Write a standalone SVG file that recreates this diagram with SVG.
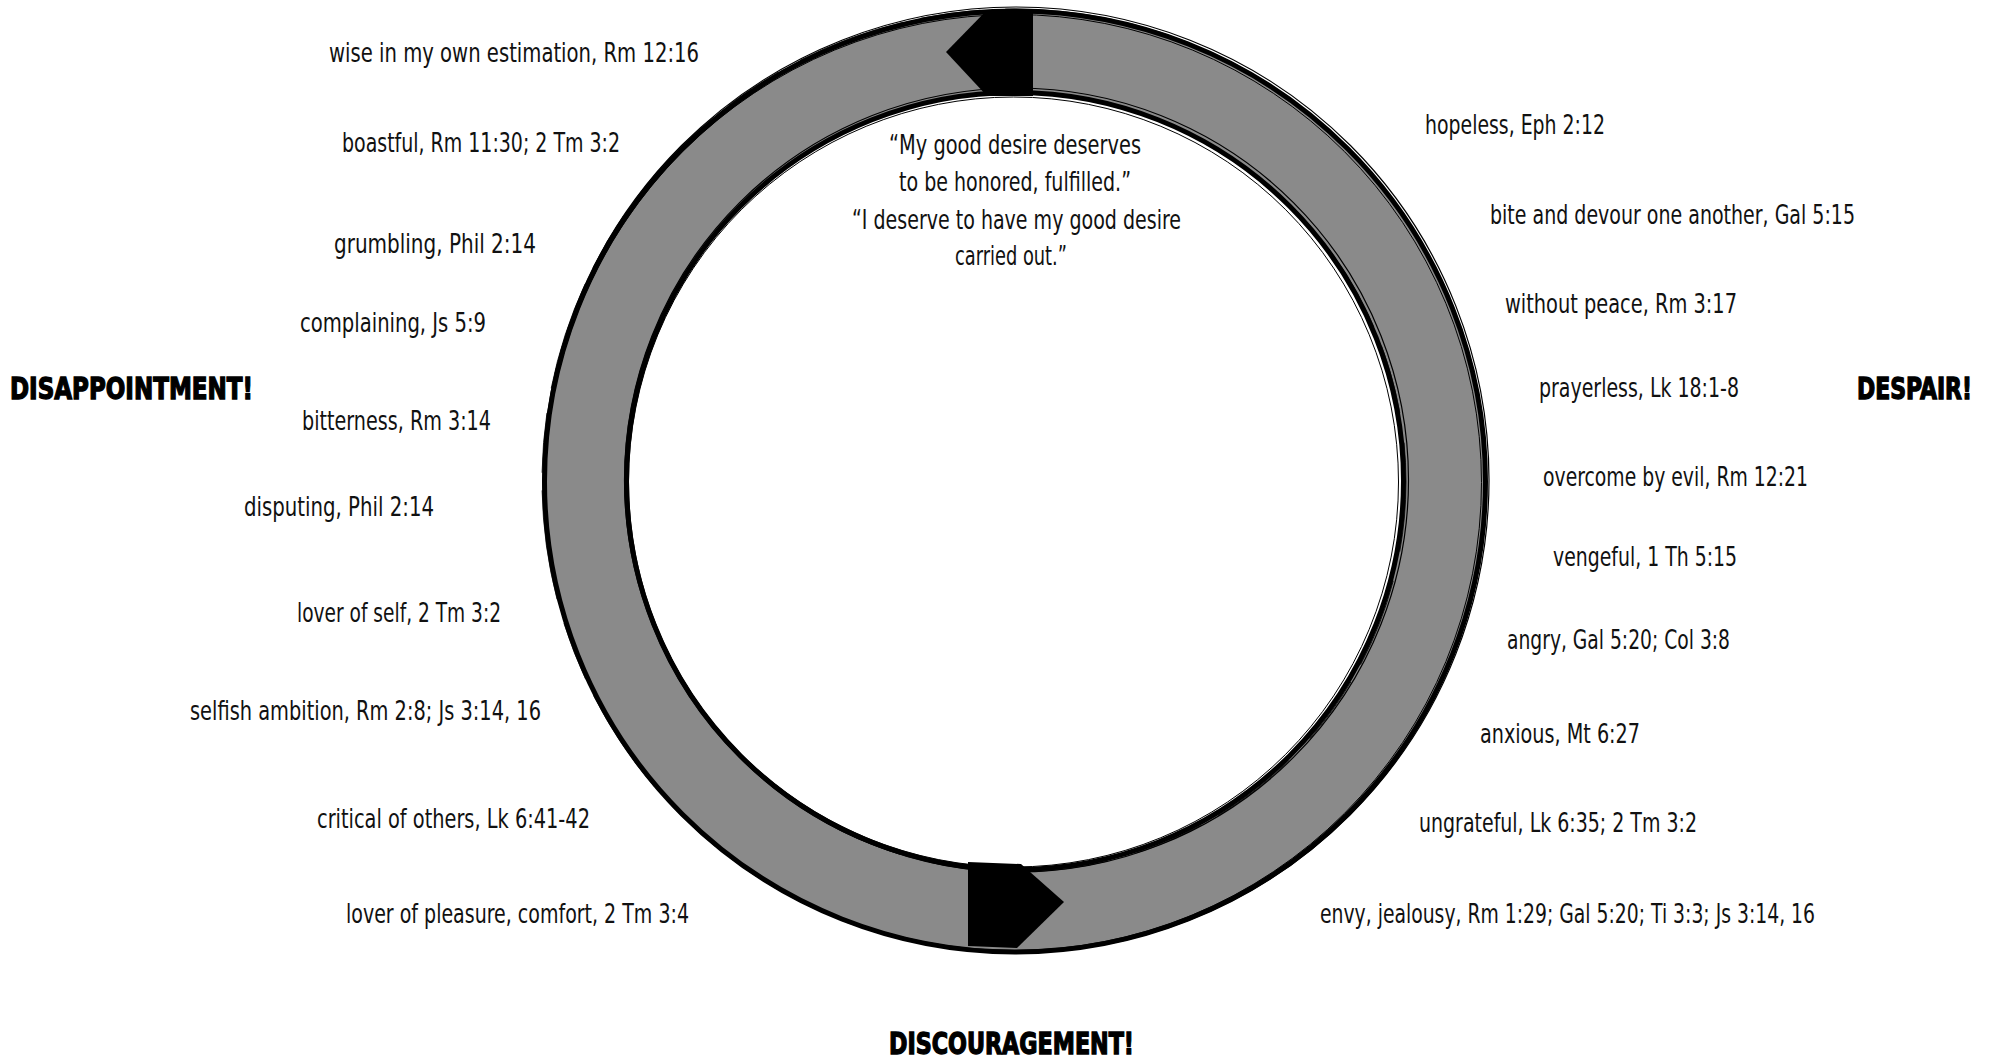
<svg xmlns="http://www.w3.org/2000/svg" width="1996" height="1063" viewBox="0 0 1996 1063">
<style>
.t{font-family:"Liberation Sans Narrow","DejaVu Sans Condensed","Liberation Sans",sans-serif;font-stretch:condensed;font-size:27px;fill:#111}
.h{font-family:"Liberation Sans Narrow","DejaVu Sans Condensed","Liberation Sans",sans-serif;font-stretch:condensed;font-weight:bold;font-size:30px;fill:#000;stroke:#000;stroke-width:1.3}
.edge{fill:none;stroke:#000}
</style>
<rect width="1996" height="1063" fill="#fff"/>
<g id="cycle">
<path d="M1015 10 A471 471 0 1 1 1014.9 10 Z M1015 93 A388 388 0 1 0 1015.1 93 Z" fill="#8a8a8a" fill-rule="evenodd"/>
<circle class="edge" cx="1015" cy="481.5" r="470.5" stroke-width="5"/>
<circle class="edge" cx="1016" cy="480" r="473" stroke-width="1.2"/>
<circle class="edge" cx="1013.5" cy="482.5" r="468" stroke-width="1"/>
<circle class="edge" cx="1014" cy="481" r="472" stroke-width="0.8" stroke-dasharray="60 25 110 18"/>
<circle class="edge" cx="1015" cy="481" r="388.5" stroke-width="5"/>
<circle class="edge" cx="1016.5" cy="480" r="392" stroke-width="1.2"/>
<circle class="edge" cx="1013.5" cy="482" r="385" stroke-width="1"/>
<circle class="edge" cx="1016" cy="482" r="390" stroke-width="0.8" stroke-dasharray="70 30 90 20"/>
</g>
<g id="connectors">
<path id="arrow-top" d="M1033 10 L1033 96 L987 96 L946 52 L987 10 Z" fill="#000"/>
<path id="arrow-bottom" d="M968 862 L1021 864 L1064 902 L1017 948 L968 946 Z" fill="#000"/>
</g>
<g id="center-quote">
<text class="t" x="889" y="154" textLength="252" lengthAdjust="spacingAndGlyphs">“My good desire deserves</text>
<text class="t" x="899" y="191" textLength="232" lengthAdjust="spacingAndGlyphs">to be honored, fulfilled.”</text>
<text class="t" x="852" y="229" textLength="329" lengthAdjust="spacingAndGlyphs">“I deserve to have my good desire</text>
<text class="t" x="955" y="265" textLength="112" lengthAdjust="spacingAndGlyphs">carried out.”</text>
</g>
<g id="stage-disappointment"><text class="h" x="10" y="399" textLength="243" lengthAdjust="spacingAndGlyphs">DISAPPOINTMENT!</text></g>
<g id="stage-despair"><text class="h" x="1857" y="399" textLength="115" lengthAdjust="spacingAndGlyphs">DESPAIR!</text></g>
<g id="stage-discouragement"><text class="h" x="889" y="1054" textLength="245" lengthAdjust="spacingAndGlyphs">DISCOURAGEMENT!</text></g>
<g id="left-1"><text class="t" x="329" y="62" textLength="370" lengthAdjust="spacingAndGlyphs">wise in my own estimation, Rm 12:16</text></g>
<g id="left-2"><text class="t" x="342" y="152" textLength="278" lengthAdjust="spacingAndGlyphs">boastful, Rm 11:30; 2 Tm 3:2</text></g>
<g id="left-3"><text class="t" x="334" y="253" textLength="202" lengthAdjust="spacingAndGlyphs">grumbling, Phil 2:14</text></g>
<g id="left-4"><text class="t" x="300" y="332" textLength="186" lengthAdjust="spacingAndGlyphs">complaining, Js 5:9</text></g>
<g id="left-5"><text class="t" x="302" y="430" textLength="189" lengthAdjust="spacingAndGlyphs">bitterness, Rm 3:14</text></g>
<g id="left-6"><text class="t" x="244" y="516" textLength="190" lengthAdjust="spacingAndGlyphs">disputing, Phil 2:14</text></g>
<g id="left-7"><text class="t" x="297" y="622" textLength="204" lengthAdjust="spacingAndGlyphs">lover of self, 2 Tm 3:2</text></g>
<g id="left-8"><text class="t" x="190" y="720" textLength="351" lengthAdjust="spacingAndGlyphs">selfish ambition, Rm 2:8; Js 3:14, 16</text></g>
<g id="left-9"><text class="t" x="317" y="828" textLength="273" lengthAdjust="spacingAndGlyphs">critical of others, Lk 6:41-42</text></g>
<g id="left-10"><text class="t" x="346" y="923" textLength="343" lengthAdjust="spacingAndGlyphs">lover of pleasure, comfort, 2 Tm 3:4</text></g>
<g id="right-1"><text class="t" x="1425" y="134" textLength="180" lengthAdjust="spacingAndGlyphs">hopeless, Eph 2:12</text></g>
<g id="right-2"><text class="t" x="1490" y="224" textLength="365" lengthAdjust="spacingAndGlyphs">bite and devour one another, Gal 5:15</text></g>
<g id="right-3"><text class="t" x="1505" y="313" textLength="232" lengthAdjust="spacingAndGlyphs">without peace, Rm 3:17</text></g>
<g id="right-4"><text class="t" x="1539" y="397" textLength="200" lengthAdjust="spacingAndGlyphs">prayerless, Lk 18:1-8</text></g>
<g id="right-5"><text class="t" x="1543" y="486" textLength="265" lengthAdjust="spacingAndGlyphs">overcome by evil, Rm 12:21</text></g>
<g id="right-6"><text class="t" x="1553" y="566" textLength="184" lengthAdjust="spacingAndGlyphs">vengeful, 1 Th 5:15</text></g>
<g id="right-7"><text class="t" x="1507" y="649" textLength="223" lengthAdjust="spacingAndGlyphs">angry, Gal 5:20; Col 3:8</text></g>
<g id="right-8"><text class="t" x="1480" y="743" textLength="160" lengthAdjust="spacingAndGlyphs">anxious, Mt 6:27</text></g>
<g id="right-9"><text class="t" x="1419" y="832" textLength="278" lengthAdjust="spacingAndGlyphs">ungrateful, Lk 6:35; 2 Tm 3:2</text></g>
<g id="right-10"><text class="t" x="1320" y="923" textLength="495" lengthAdjust="spacingAndGlyphs">envy, jealousy, Rm 1:29; Gal 5:20; Ti 3:3; Js 3:14, 16</text></g>
</svg>
